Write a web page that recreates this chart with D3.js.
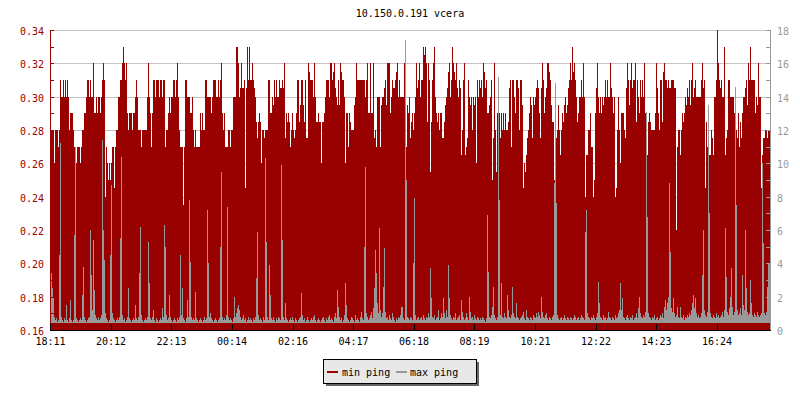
<!DOCTYPE html>
<html><head><meta charset="utf-8">
<script src="https://cdn.jsdelivr.net/npm/d3@7/dist/d3.min.js"></script>
<style>
html,body{margin:0;padding:0;background:#fff;}
svg{display:block;}
text{font-family:"DejaVu Sans Mono","Liberation Mono",monospace;font-size:10px;}
</style></head><body>
<svg id="chart" width="800" height="400"></svg>
<script>
const title = "10.150.0.191 vcera";
const seriesNames = ["min ping", "max ping"];
const startTime = "18:11";
const stepMinutes = 2;

// min ping (left axis)
const minPing = [
0.28,0.28,0.28,0.28,0.26,0.28,0.28,0.28,0.27,0.28,
0.31,0.30,0.30,0.31,0.30,0.31,0.30,0.31,0.30,0.28,
0.29,0.29,0.29,0.28,0.27,0.27,0.26,0.27,0.27,0.27,
0.26,0.27,0.28,0.28,0.29,0.29,0.30,0.31,0.31,0.30,
0.31,0.30,0.30,0.32,0.29,0.29,0.30,0.29,0.30,0.30,
0.29,0.30,0.31,0.32,0.31,0.24,0.27,0.26,0.25,0.26,
0.25,0.26,0.27,0.27,0.245,0.27,0.28,0.28,0.30,0.30,
0.31,0.31,0.32,0.33,0.32,0.31,0.32,0.29,0.28,0.29,
0.29,0.29,0.28,0.29,0.29,0.30,0.31,0.30,0.28,0.28,
0.28,0.27,0.28,0.28,0.28,0.28,0.28,0.30,0.32,0.30,
0.29,0.27,0.29,0.31,0.31,0.30,0.31,0.31,0.31,0.30,
0.31,0.31,0.30,0.31,0.31,0.27,0.28,0.28,0.29,0.30,
0.29,0.30,0.30,0.31,0.31,0.30,0.31,0.32,0.30,0.28,
0.27,0.27,0.27,0.235,0.27,0.31,0.31,0.30,0.30,0.30,
0.29,0.29,0.30,0.28,0.27,0.28,0.27,0.27,0.27,0.27,
0.29,0.28,0.29,0.28,0.28,0.31,0.31,0.30,0.30,0.30,
0.30,0.29,0.30,0.31,0.31,0.31,0.30,0.30,0.31,0.30,
0.31,0.32,0.29,0.28,0.29,0.27,0.27,0.27,0.28,0.28,
0.27,0.28,0.28,0.30,0.30,0.30,0.33,0.33,0.32,0.30,
0.305,0.32,0.305,0.305,0.31,0.245,0.305,0.33,0.31,0.33,
0.31,0.31,0.32,0.31,0.305,0.30,0.285,0.275,0.285,0.29,
0.285,0.26,0.28,0.28,0.275,0.28,0.28,0.28,0.31,0.31,
0.29,0.29,0.30,0.295,0.31,0.30,0.31,0.30,0.30,0.31,
0.305,0.305,0.31,0.305,0.32,0.275,0.29,0.285,0.29,0.285,
0.27,0.28,0.29,0.28,0.275,0.28,0.29,0.31,0.31,0.285,
0.295,0.31,0.31,0.295,0.285,0.31,0.275,0.275,0.32,0.315,
0.31,0.31,0.31,0.30,0.32,0.30,0.285,0.285,0.29,0.285,
0.285,0.26,0.285,0.285,0.29,0.30,0.31,0.31,0.31,0.30,
0.32,0.32,0.31,0.315,0.32,0.305,0.30,0.295,0.31,0.295,
0.32,0.315,0.31,0.31,0.30,0.26,0.29,0.29,0.27,0.29,
0.285,0.28,0.28,0.28,0.295,0.30,0.32,0.31,0.31,0.31,
0.31,0.31,0.31,0.31,0.31,0.30,0.31,0.32,0.29,0.29,
0.32,0.29,0.29,0.32,0.275,0.28,0.27,0.30,0.30,0.30,
0.27,0.295,0.30,0.30,0.305,0.31,0.295,0.32,0.32,0.32,
0.29,0.30,0.31,0.305,0.305,0.31,0.315,0.32,0.30,0.31,
0.30,0.30,0.30,0.30,0.32,0.27,0.27,0.295,0.29,0.30,
0.275,0.285,0.29,0.28,0.29,0.30,0.32,0.305,0.31,0.32,
0.30,0.31,0.31,0.33,0.325,0.33,0.32,0.285,0.32,0.31,
0.255,0.285,0.31,0.32,0.33,0.30,0.29,0.285,0.29,0.28,
0.29,0.29,0.275,0.275,0.285,0.295,0.30,0.305,0.315,0.32,
0.30,0.31,0.33,0.32,0.315,0.31,0.32,0.305,0.30,0.31,
0.305,0.265,0.28,0.31,0.32,0.265,0.27,0.275,0.31,0.30,
0.295,0.30,0.28,0.30,0.295,0.30,0.26,0.31,0.30,0.31,
0.305,0.31,0.30,0.32,0.315,0.305,0.31,0.29,0.29,0.295,
0.30,0.31,0.25,0.275,0.32,0.28,0.255,0.29,0.27,0.29,
0.275,0.29,0.28,0.29,0.28,0.29,0.28,0.28,0.285,0.305,
0.31,0.27,0.31,0.31,0.30,0.29,0.31,0.31,0.305,0.28,
0.31,0.31,0.295,0.245,0.26,0.255,0.265,0.275,0.28,0.29,
0.30,0.295,0.275,0.30,0.295,0.30,0.305,0.31,0.305,0.29,
0.275,0.305,0.32,0.31,0.29,0.30,0.305,0.32,0.32,0.315,
0.31,0.295,0.285,0.285,0.25,0.29,0.275,0.28,0.295,0.28,
0.265,0.28,0.29,0.285,0.295,0.30,0.29,0.295,0.305,0.31,
0.32,0.31,0.33,0.315,0.32,0.31,0.30,0.285,0.29,0.30,
0.30,0.31,0.30,0.32,0.30,0.24,0.265,0.265,0.28,0.28,
0.29,0.27,0.27,0.24,0.25,0.29,0.305,0.32,0.30,0.29,
0.30,0.29,0.30,0.295,0.30,0.31,0.30,0.31,0.30,0.30,
0.32,0.305,0.30,0.29,0.30,0.24,0.245,0.28,0.30,0.28,
0.26,0.29,0.29,0.29,0.28,0.275,0.305,0.32,0.31,0.295,
0.31,0.32,0.305,0.31,0.31,0.32,0.285,0.31,0.30,0.29,
0.31,0.30,0.31,0.30,0.32,0.29,0.255,0.265,0.285,0.29,
0.285,0.28,0.28,0.28,0.28,0.29,0.32,0.305,0.29,0.28,
0.31,0.31,0.285,0.315,0.32,0.31,0.31,0.305,0.31,0.305,
0.305,0.31,0.31,0.31,0.305,0.305,0.22,0.27,0.28,0.28,
0.265,0.28,0.29,0.285,0.29,0.30,0.295,0.305,0.30,0.31,
0.295,0.31,0.32,0.30,0.305,0.31,0.30,0.30,0.30,0.30,
0.30,0.31,0.32,0.305,0.31,0.245,0.285,0.27,0.25,0.265,
0.265,0.28,0.275,0.265,0.30,0.30,0.31,0.34,0.32,0.31,
0.305,0.31,0.30,0.30,0.33,0.265,0.275,0.28,0.31,0.31,
0.30,0.30,0.30,0.30,0.29,0.305,0.28,0.275,0.29,0.27,
0.285,0.275,0.29,0.30,0.30,0.305,0.31,0.295,0.32,0.31,
0.33,0.31,0.31,0.31,0.31,0.29,0.30,0.295,0.32,0.30,
0.30,0.245,0.265,0.275,0.275,0.28,0.28,0.275,0.28,0.28
];

// max ping (right axis)
const maxPing = [
0.9,3.4,2.5,2.0,0.8,0.6,0.7,0.5,0.6,4.5,
11.2,0.8,0.6,0.5,0.7,0.6,1.5,0.6,0.5,0.7,
1.8,0.6,0.5,0.6,5.7,11.0,0.7,0.6,0.5,0.6,
0.7,0.6,2.1,3.8,0.8,0.6,0.5,0.6,0.7,0.8,
6.0,3.3,1.2,5.4,2.4,0.9,0.7,0.6,0.8,0.6,
0.7,0.9,11.4,6.0,4.2,1.0,0.7,0.6,0.5,0.6,
4.5,8.7,1.0,0.7,0.6,0.5,0.6,0.7,0.6,0.8,
5.5,10.4,0.9,0.6,0.7,0.5,0.6,0.8,2.5,0.7,
0.6,0.5,0.6,0.7,0.6,1.5,0.7,0.6,0.8,3.4,
6.2,0.9,0.6,0.5,0.6,0.7,0.6,0.8,5.3,2.8,
0.7,0.6,0.8,1.2,0.6,0.5,0.7,0.6,0.5,0.6,
0.7,0.6,1.3,0.8,6.3,5.0,0.9,0.6,0.7,2.1,
0.8,0.6,0.5,0.6,0.7,0.6,0.5,0.7,0.6,0.8,
4.5,0.9,2.5,0.7,0.6,0.5,0.7,1.8,0.8,7.8,
4.1,0.8,0.6,0.7,0.6,2.3,0.7,0.6,0.5,0.6,
0.7,0.6,0.5,0.6,0.8,0.6,0.7,7.2,4.0,0.8,
1.0,0.7,0.6,0.5,0.6,0.7,0.6,0.5,0.6,0.7,
5.0,9.5,0.8,0.6,0.7,0.6,0.9,7.4,0.8,0.6,
0.7,0.6,0.5,0.7,2.0,0.8,1.0,1.3,1.5,1.2,
0.8,0.6,0.7,0.9,0.6,0.7,0.5,0.6,0.8,0.6,
0.7,0.6,0.5,0.7,0.6,0.8,3.1,5.9,0.9,0.6,
0.7,0.6,0.5,0.8,0.6,10.3,5.3,0.8,0.6,3.9,
2.1,0.7,0.6,0.8,0.6,0.5,0.7,0.6,0.8,0.7,
0.6,9.9,5.4,0.8,0.6,1.6,0.7,0.6,0.5,0.6,
0.7,0.6,0.8,0.6,0.5,0.7,0.6,0.5,0.6,0.7,
0.8,2.2,0.9,0.6,0.7,0.5,0.6,0.8,0.6,0.5,
0.6,0.7,0.6,0.8,0.9,0.6,0.5,0.6,0.7,0.6,
0.5,0.6,0.7,0.8,0.6,0.5,0.7,0.6,0.8,0.9,
0.6,0.7,0.6,0.5,0.8,1.0,0.7,2.4,1.4,0.8,
0.6,0.7,0.5,0.6,0.9,2.8,1.5,0.7,0.6,0.5,
0.6,0.8,0.7,0.6,0.5,0.9,0.6,0.7,0.6,0.5,
0.8,1.1,0.7,0.6,5.0,9.8,1.0,0.8,0.6,0.7,
0.9,1.1,0.7,1.3,2.5,4.8,3.4,1.6,1.0,6.1,
1.2,0.8,1.0,2.6,4.9,1.1,0.7,0.8,0.6,0.9,
0.7,0.6,1.0,0.8,0.6,0.5,0.7,0.6,0.8,0.7,
0.9,1.4,1.4,0.7,0.6,17.4,9.0,0.8,0.7,0.6,
0.8,0.7,0.6,4.0,7.9,0.9,0.6,0.7,0.8,0.6,
0.7,0.8,0.6,0.9,0.7,0.6,0.8,0.7,1.0,0.8,
3.7,1.9,0.8,0.7,0.9,0.6,0.7,0.8,1.2,0.6,
0.7,1.0,0.8,1.9,1.0,0.7,1.2,0.8,3.9,1.9,
0.9,0.7,0.6,0.8,0.7,1.0,0.6,0.7,0.8,0.9,
0.6,1.8,1.1,0.8,0.6,0.7,1.0,0.8,0.6,2.0,
1.1,0.7,0.8,0.6,0.9,0.7,0.6,0.8,0.7,0.6,
0.7,0.6,0.8,0.7,0.6,0.5,0.7,6.9,3.5,0.8,
0.7,0.9,1.4,2.6,0.9,0.7,0.6,0.8,15.2,7.8,
0.9,2.8,0.8,0.7,1.0,0.8,0.7,2.1,1.2,0.8,
0.7,0.9,2.6,1.0,0.8,0.7,1.6,0.8,0.7,0.6,
0.7,0.8,0.9,1.1,0.7,0.6,1.2,0.8,0.7,0.6,
0.8,0.7,0.6,0.9,0.8,0.7,1.0,0.8,1.1,0.9,
0.7,2.0,1.1,0.8,0.7,0.9,1.0,0.7,0.6,0.8,
0.7,0.6,0.8,0.9,8.8,14.8,7.6,0.9,0.7,0.6,
0.7,0.8,0.6,0.7,0.9,0.7,0.6,0.8,0.7,0.6,
0.8,0.7,0.6,0.7,0.9,0.8,0.6,0.7,0.8,0.6,
0.7,0.9,0.8,0.7,0.6,5.9,7.2,1.0,0.8,0.7,
0.6,0.8,0.7,0.9,0.7,0.6,0.8,1.0,2.9,1.6,
0.8,0.7,0.6,0.9,0.7,0.8,0.6,0.7,1.1,0.8,
0.7,0.6,0.8,0.7,0.6,0.9,0.7,0.8,1.0,1.2,
2.8,1.2,1.9,0.8,0.7,0.6,0.8,0.9,0.7,0.6,
0.8,0.7,0.9,0.6,0.7,0.8,1.0,0.7,1.3,2.0,
1.0,0.8,0.7,0.9,0.8,1.1,13.1,6.8,1.0,0.8,
0.7,0.6,0.8,0.7,0.9,0.6,0.7,0.8,0.6,0.7,
0.9,0.8,1.0,0.7,1.4,1.8,1.2,1.6,2.0,8.8,
4.7,1.3,1.1,1.9,1.0,0.8,0.9,1.4,0.8,0.7,
1.4,0.8,0.7,0.9,0.6,0.8,0.7,0.9,0.8,1.0,
0.9,1.2,1.6,2.1,1.3,1.9,1.0,0.8,0.9,0.7,
0.8,1.0,3.3,6.0,1.2,0.9,0.8,1.1,13.5,7.0,
1.0,0.8,0.7,0.9,0.8,0.7,1.0,0.8,0.9,0.7,
0.8,0.9,1.1,0.8,1.2,6.1,3.2,1.1,0.9,1.3,
2.0,3.7,1.4,0.9,1.1,14.6,7.5,1.2,0.9,1.0,
1.3,0.9,3.3,1.5,1.2,6.0,2.5,1.1,0.9,1.0,
3.0,1.6,0.9,0.8,1.0,0.9,0.8,1.1,0.9,0.8,
0.9,1.0,10.0,5.2,1.0,0.9,1.1,2.6,4.0,4.0
];

const xTickLabels = ["18:11","20:12","22:13","00:14","02:16","04:17","06:18","08:19","10:21","12:22","14:23","16:24"];
const leftTickValues = [0.16,0.18,0.20,0.22,0.24,0.26,0.28,0.30,0.32,0.34];
const rightTickValues = [0,2,4,6,8,10,12,14,16,18];
const maxPingBase = 0.42;

const RED = "#990000", GREY = "#999999";
const plot = {left:50, right:770, top:30, bottom:330};
const svg = d3.select("#chart");

function hm(s){ return [+s.slice(0,2), +s.slice(3,5)]; }
const [sh, sm] = hm(startTime);
const t0 = new Date(2000,0,1,sh,sm);
const stepMs = stepMinutes*60000;
const times = minPing.map((_,i)=>new Date(t0.getTime()+i*stepMs));
const tEnd = new Date(t0.getTime()+minPing.length*stepMs);

const x = d3.scaleTime().domain([t0,tEnd]).range([plot.left, plot.right]);
const yL = d3.scaleLinear().domain([0.16,0.34]).range([plot.bottom, plot.top]);
const yR = d3.scaleLinear().domain([0,18]).range([plot.bottom, plot.top]);

// grid
const grid = svg.append("g").attr("shape-rendering","crispEdges");
grid.selectAll("line").data(leftTickValues).join("line")
  .attr("x1",plot.left).attr("x2",plot.right)
  .attr("y1",d=>Math.round(yL(d))+0.5).attr("y2",d=>Math.round(yL(d))+0.5)
  .attr("stroke","#c4c4c4").attr("stroke-width",1);

// min ping bars
const bars = svg.append("g").attr("shape-rendering","crispEdges");
bars.selectAll("rect.min").data(minPing).join("rect").attr("class","min")
  .attr("x",(d,i)=>x(times[i]))
  .attr("width",(d,i)=>x(new Date(times[i].getTime()+stepMs))-x(times[i]))
  .attr("y",d=>yL(d))
  .attr("height",d=>yL(0.16)-yL(d))
  .attr("fill",RED);

// max ping bars
bars.selectAll("rect.max").data(maxPing).join("rect").attr("class","max")
  .attr("x",(d,i)=>x(times[i]))
  .attr("width",(d,i)=>x(new Date(times[i].getTime()+stepMs))-x(times[i]))
  .attr("y",d=>yR(d))
  .attr("height",d=>Math.max(0,yR(maxPingBase)-yR(d)))
  .attr("fill",GREY);

// axes
const ax = svg.append("g").attr("shape-rendering","crispEdges");
// left axis
ax.append("line").attr("x1",plot.left+0.5).attr("x2",plot.left+0.5)
  .attr("y1",plot.top).attr("y2",plot.bottom).attr("stroke",RED);
const leftMinor = d3.range(0,19).map(i=>0.16+i*0.01);
ax.selectAll("line.lt").data(leftMinor).join("line").attr("class","lt")
  .attr("x1",plot.left).attr("x2",plot.left+4)
  .attr("y1",d=>Math.round(yL(d))+0.5).attr("y2",d=>Math.round(yL(d))+0.5)
  .attr("stroke",RED);
// right axis
ax.append("line").attr("x1",plot.right+0.5).attr("x2",plot.right+0.5)
  .attr("y1",plot.top).attr("y2",plot.bottom).attr("stroke",GREY);
const rightMinor = d3.range(0,19);
ax.selectAll("line.rt").data(rightMinor).join("line").attr("class","rt")
  .attr("x1",plot.right-4).attr("x2",plot.right+1)
  .attr("y1",d=>Math.round(yR(d))+0.5).attr("y2",d=>Math.round(yR(d))+0.5)
  .attr("stroke",GREY);
// bottom axis
ax.append("line").attr("x1",plot.left).attr("x2",plot.right+1)
  .attr("y1",plot.bottom+0.5).attr("y2",plot.bottom+0.5).attr("stroke","#000");
function labelTime(s){
  const [h,m] = hm(s);
  let d = new Date(2000,0,1,h,m);
  if (d < t0) d = new Date(2000,0,2,h,m);
  return d;
}
ax.selectAll("line.bt").data(xTickLabels).join("line").attr("class","bt")
  .attr("x1",d=>Math.round(x(labelTime(d)))+0.5).attr("x2",d=>Math.round(x(labelTime(d)))+0.5)
  .attr("y1",plot.bottom-6).attr("y2",plot.bottom)
  .attr("stroke","#000");

// labels
svg.append("g").selectAll("text").data(leftTickValues).join("text")
  .attr("x",44).attr("y",d=>yL(d)+5)
  .attr("text-anchor","end").attr("fill",RED)
  .text(d=>d3.format(".2f")(d));
svg.append("g").selectAll("text").data(rightTickValues).join("text")
  .attr("x",777).attr("y",d=>yR(d)+5)
  .attr("text-anchor","start").attr("fill",GREY)
  .text(d=>d);
svg.append("g").selectAll("text").data(xTickLabels).join("text")
  .attr("x",d=>x(labelTime(d))+0.5).attr("y",345)
  .attr("text-anchor","middle").attr("fill","#000")
  .text(d=>d);

// title
svg.append("text").attr("x",(plot.left+plot.right)/2).attr("y",17)
  .attr("text-anchor","middle").attr("fill","#000").text(title);

// legend
const lg = svg.append("g").attr("shape-rendering","crispEdges");
const lx = 323, ly = 359, lw = 153, lh = 24;
lg.append("rect").attr("x",lx+3).attr("y",ly+3).attr("width",lw).attr("height",lh).attr("fill","#666666");
lg.append("rect").attr("x",lx+0.5).attr("y",ly+0.5).attr("width",lw).attr("height",lh)
  .attr("fill","#e8e8e8").attr("stroke","#000");
const items = [{name:seriesNames[0],color:RED,sx:327,tx:342},{name:seriesNames[1],color:GREY,sx:396,tx:410}];
items.forEach(it=>{
  lg.append("rect").attr("x",it.sx).attr("y",371).attr("width",11).attr("height",2).attr("fill",it.color);
  lg.append("text").attr("x",it.tx).attr("y",375.5).attr("fill","#000").text(it.name);
});
</script>
</body></html>
